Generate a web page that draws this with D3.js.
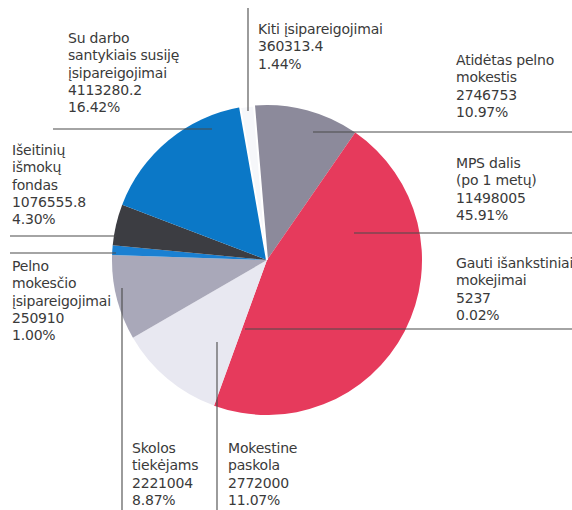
<!DOCTYPE html>
<html>
<head>
<meta charset="utf-8">
<script src="https://cdn.jsdelivr.net/npm/d3@7"></script>
<style>
  body { margin: 0; background: #fff; }
  svg { display: block; }
</style>
</head>
<body>
<div id="chart"></div>
<script>
// slices, clockwise starting just left of 12 o'clock
const categories = [
    'Atidėtas pelno mokestis',
    'MPS dalis (po 1 metų)',
    'Gauti išankstiniai mokejimai',
    'Mokestine paskola',
    'Skolos tiekėjams',
    'Pelno mokesčio įsipareigojimai',
    'Išeitinių išmokų fondas',
    'Su darbo santykiais susiję įsipareigojimai',
    'Kiti įsipareigojimai',
];
const amounts = ['2746753', '11498005', '5237', '2772000', '2221004', '250910', '1076555.8', '4113280.2', '360313.4'];
const shares = [10.97, 45.91, 0.02, 11.07, 8.87, 1.00, 4.30, 16.42, 1.44];
const nameLines = [
    ['Atidėtas pelno', 'mokestis'],
    ['MPS dalis', '(po 1 metų)'],
    ['Gauti išankstiniai', 'mokejimai'],
    ['Mokestine', 'paskola'],
    ['Skolos', 'tiekėjams'],
    ['Pelno', 'mokesčio', 'įsipareigojimai'],
    ['Išeitinių', 'išmokų', 'fondas'],
    ['Su darbo', 'santykiais susiję', 'įsipareigojimai'],
    ['Kiti įsipareigojimai'],
];
const colors = ['#8c8a9b', '#e63a5c', '#d9d9e2', '#e8e8f1', '#a9a8b9', '#1a80d2', '#3c3d42', '#0b78c7', '#f6f7fa'];

const WIDTH = 572;
const HEIGHT = 510;
const CENTER = { x: 267, y: 260 };
const RADIUS = 155;
const LINE_H = 17.3;

// label placement: text anchor + leader line
const labelLayout = [
    { x: 456, y: 65,  line: [[313, 132], [572, 132]] },
    { x: 456, y: 168, line: [[354, 233], [572, 233]] },
    { x: 456, y: 268, line: [[245, 329], [572, 329]] },
    { x: 228, y: 453, line: [[217, 342], [217, 510]] },
    { x: 132, y: 453, line: [[122, 288], [122, 510]] },
    { x: 12,  y: 271, line: [[10, 253], [116, 253]] },
    { x: 12,  y: 155, line: [[10, 236], [116, 236]] },
    { x: 68,  y: 43,  line: [[53, 129], [212, 129]] },
    { x: 258, y: 34,  line: [[248, 8], [248, 111]] },
];

const data = categories.map((c, i) => ({
    name: c,
    amount: amounts[i],
    share: shares[i],
    lines: nameLines[i].concat([amounts[i], shares[i].toFixed(2) + '%']),
    color: colors[i],
}));

const svg = d3.select('#chart')
    .append('svg')
        .attr('width', WIDTH)
        .attr('height', HEIGHT);

const start = -4.8 * Math.PI / 180;
const pie = d3.pie()
    .sort(null)
    .value(d => d.share)
    .startAngle(start)
    .endAngle(start + 2 * Math.PI);

const arc = d3.arc()
    .innerRadius(0)
    .outerRadius(RADIUS);

const g = svg.append('g')
    .attr('transform', 'translate(' + CENTER.x + ',' + CENTER.y + ')');

g.selectAll('path')
    .data(pie(data))
    .join('path')
        .attr('d', arc)
        .attr('fill', d => d.data.color)
        .attr('stroke', (d, i) => i === 8 ? '#ffffff' : 'none')
        .attr('stroke-width', 2);

// leader lines
svg.append('g')
    .selectAll('line')
    .data(labelLayout)
    .join('line')
        .attr('x1', d => d.line[0][0])
        .attr('y1', d => d.line[0][1])
        .attr('x2', d => d.line[1][0])
        .attr('y2', d => d.line[1][1])
        .attr('stroke', '#4a4a4a')
        .attr('stroke-width', 1.1);

// labels
const labels = svg.append('g')
    .selectAll('text')
    .data(data)
    .join('text')
        .attr('x', (d, i) => labelLayout[i].x)
        .attr('y', (d, i) => labelLayout[i].y)
        .attr('font-family', '"DejaVu Sans", sans-serif')
        .attr('font-size', 14)
        .attr('letter-spacing', -0.2)
        .attr('fill', '#3a3a3a');

labels.selectAll('tspan')
    .data(d => d.lines)
    .join('tspan')
        .attr('x', function () { return d3.select(this.parentNode).attr('x'); })
        .attr('dy', (d, i) => i === 0 ? 0 : LINE_H)
        .text(d => d);
</script>
</body>
</html>
